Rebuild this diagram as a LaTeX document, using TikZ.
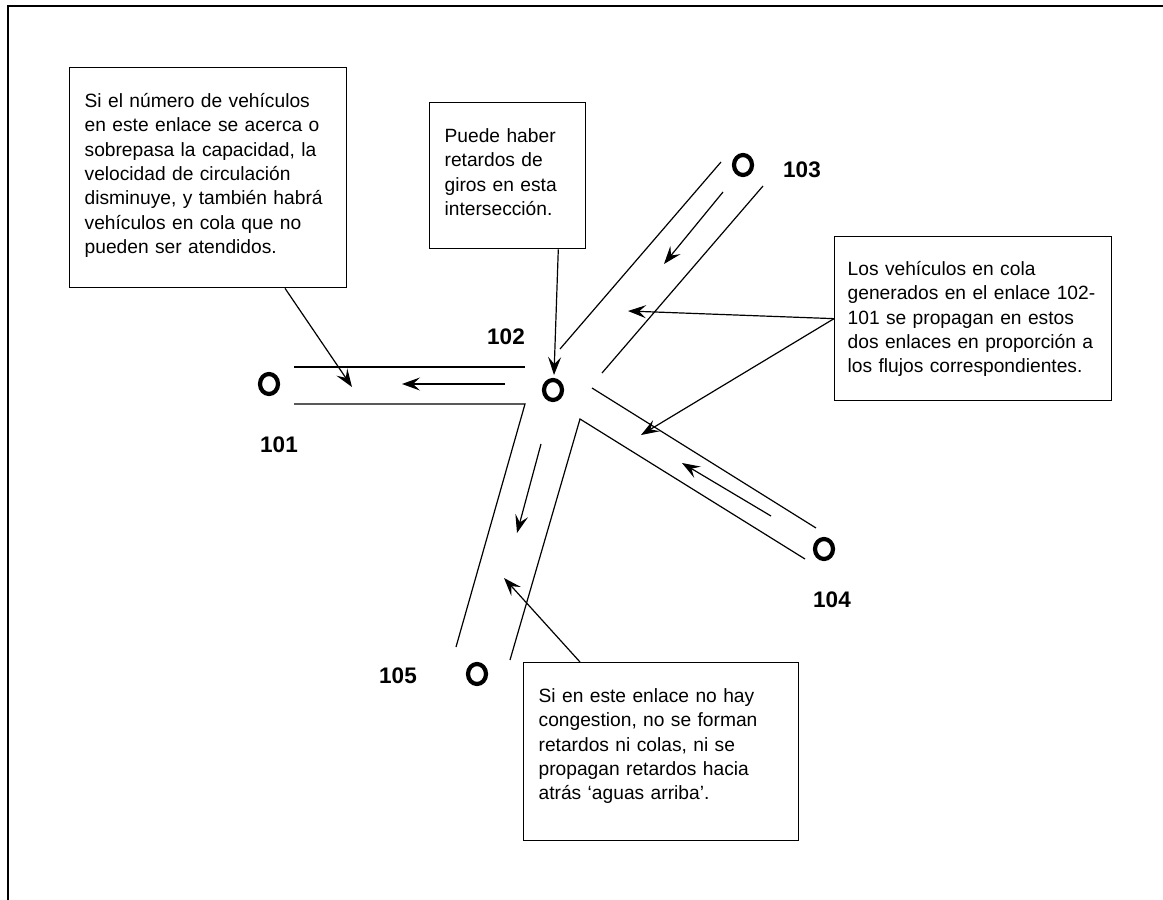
\documentclass[tikz,border=0pt]{standalone}
\usepackage{fontspec}
\setmainfont{Liberation Sans}
\usetikzlibrary{arrows.meta,shapes.geometric}
\newcommand{\notefont}{\fontsize{19.2}{24.3}\selectfont}
\tikzstyle{note} = [draw, line width=1.3pt, anchor=north west, align=left, inner xsep=15pt, inner ysep=0pt, font=\notefont]
\tikzstyle{junction} = [draw, ellipse, line width=4.2pt, minimum width=18pt, minimum height=20pt, inner sep=0pt]
\tikzstyle{num} = [font={\fontsize{22.5}{27}\selectfont\bfseries}, inner sep=0pt]
\tikzstyle{road} = [line width=1.2pt]
\tikzstyle{flow} = [line width=1.2pt, -{Stealth[length=18pt,width=13pt,inset=7pt]}]
\tikzstyle{pointer} = [flow]

\begin{document}
\begin{tikzpicture}[x=1pt,y=-1pt]
  \useasboundingbox (0,0) rectangle (1163,900);
  \draw[line width=2.5pt] (8,900) -- (8,6) -- (1163,6);
  \node[note,text width=247pt,text height=40pt,text depth=180pt](c1) at (69,67){Si el número de vehículos\\en este enlace se acerca o\\sobrepasa la capacidad, la\\velocidad de circulación\\disminuye, y también habrá\\vehículos en cola que no\\pueden ser atendidos.};
  \node[note,text width=126pt,text height=40pt,text depth=106pt](c2) at (429,102){Puede haber\\retardos de\\giros en esta\\intersección.};
  \node[note,inner xsep=13pt,text width=251pt,text height=39pt,text depth=125pt](c3) at (834,236){Los vehículos en cola\\generados en el enlace 102-\\101 se propagan en estos\\dos enlaces en proporción a\\los flujos correspondientes.};
  \node[note,text width=245pt,text height=40pt,text depth=138pt](c4) at (523,662){Si en este enlace no hay\\congestion, no se forman\\retardos ni colas, ni se\\propagan retardos hacia\\atrás ‘aguas arriba’.};
  \node[junction](101) at (269,384){};
  \node[junction](102) at (553,390){};
  \node[junction](103) at (743,165){};
  \node[junction](104) at (824,549){};
  \node[junction](105) at (477,674){};
  \node[num](l101) at (279,445){101};
  \node[num](l102) at (506,337){102};
  \node[num](l103) at (802,170){103};
  \node[num](l104) at (832,600){104};
  \node[num](l105) at (398,676){105};
  \draw[road] (294,367) -- (525,367);
  \draw[road] (294,404) -- (525,404) -- (456,647);
  \draw[road] (510,660) -- (580,419) -- (805,559);
  \draw[road] (592,388) -- (816,528);
  \draw[road] (560,349) -- (721,162);
  \draw[road] (602,373) -- (763,186);
  \draw[flow] (505,384) -- (402,384);
  \draw[flow] (723,192) -- (664,264);
  \draw[flow] (771,516) -- (682,463);
  \draw[flow] (541,444) -- (517,533);
  \coordinate (tA) at (352,387);
  \coordinate (tB) at (554,375);
  \coordinate (tC1) at (628,311);
  \coordinate (tC2) at (641,435);
  \coordinate (tD) at (504,578);
  \draw[pointer] ([xshift=216pt]c1.south west) -- (tA);
  \draw[pointer] ([xshift=-28pt]c2.south east) -- (tB);
  \draw[pointer] (c3.west) -- (tC1);
  \draw[pointer] (c3.west) -- (tC2);
  \draw[pointer] ([xshift=57pt]c4.north west) -- (tD);
\end{tikzpicture}
\end{document}
